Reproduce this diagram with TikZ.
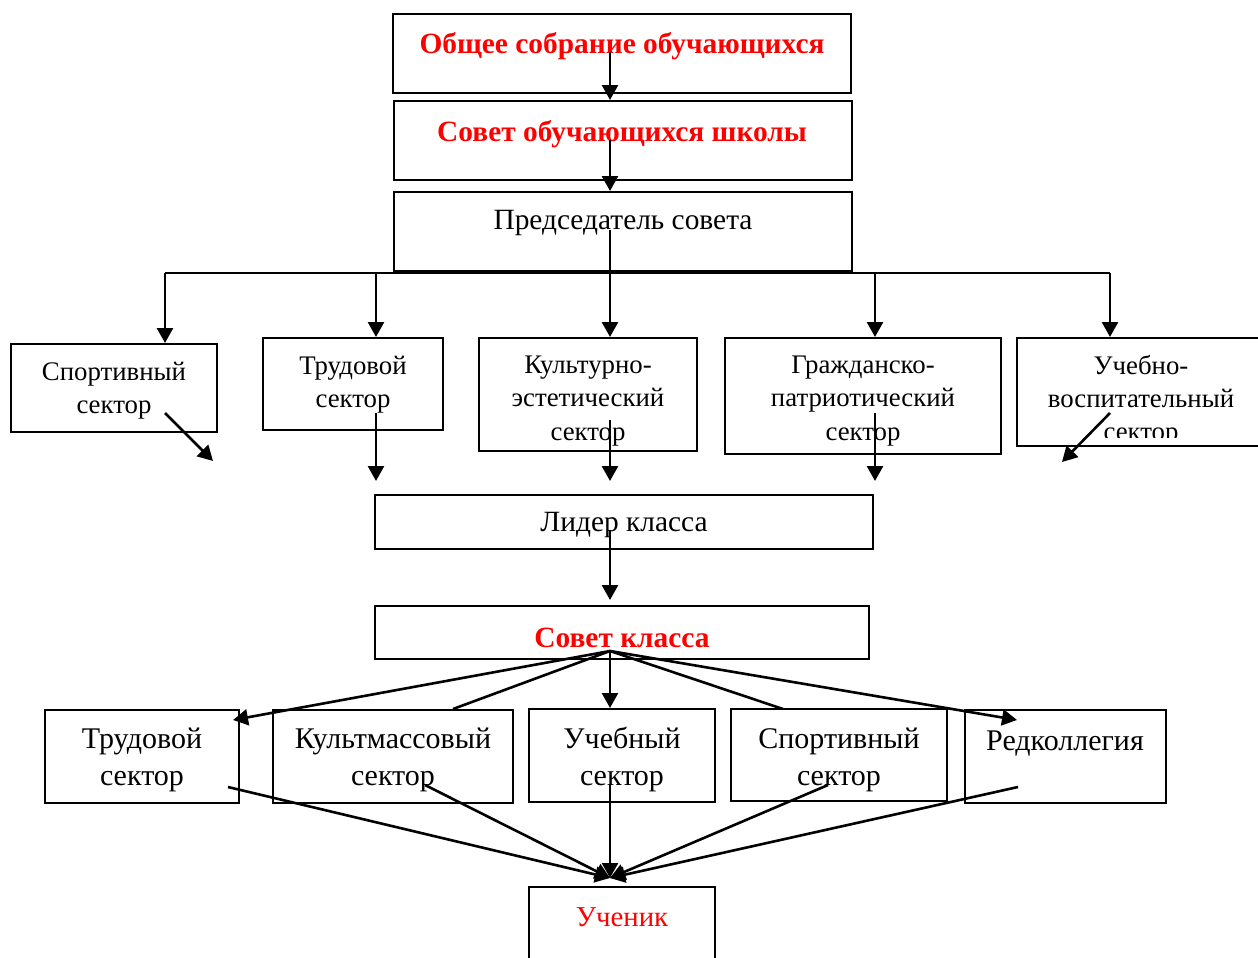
\documentclass[tikz,border=0pt]{standalone}
\usepackage{fontspec}
\setmainfont{Liberation Serif}
\usetikzlibrary{positioning}
\usetikzlibrary{fit}
\usetikzlibrary{arrows.meta}
\tikzset{
    box/.style = {rectangle, draw=black, line width=1pt, inner sep=0pt},
    txt/.style = {align=center, inner sep=0pt, font=\fontsize{13.4}{16.6}\selectfont},
    txtm/.style = {align=center, inner sep=0pt, font=\fontsize{14.7}{17}\selectfont},
    txtl/.style = {align=center, inner sep=0pt, font=\fontsize{15}{18.5}\selectfont},
    txtr/.style = {align=center, inner sep=0pt, text=red, font=\fontsize{14.7}{17}\selectfont\bfseries},
    txtrl/.style = {align=center, inner sep=0pt, text=red, font=\fontsize{14.4}{17}\selectfont},
    edgen/.style = {-{Triangle[length=7.5pt,width=8pt]}, line width=1.3pt},
    edgel/.style = {line width=1.3pt},
}

\begin{document}
\begin{tikzpicture}[x=0.5pt, y=-0.5pt]
  \useasboundingbox (0,0) rectangle (1258,958);

  % top of the scheme
  \node[box, fit={(393,14) (851,93)}] (b1) {};
  \node[box, fit={(394,101) (852,180)}] (b2) {};
  \node[box, fit={(394,192) (852,271)}] (b3) {};
  \node[txtr] (t1) at (622,46) {Общее собрание обучающихся};
  \node[txtr] (t2) at (622,134) {Совет обучающихся школы};
  \node[txtm] (t3) at (623,223) {Председатель совета};

  % sectors
  \node[box, fit={(11,344) (217,432)}] (s1) {};
  \node[box, fit={(263,338) (443,430)}] (s2) {};
  \node[box, fit={(479,338) (697,451)}] (s3) {};
  \node[box, fit={(725,338) (1001,454)}] (s4) {};
  \node[box, fit={(1017,338) (1275,446)}] (s5) {};
  \node[txt] (ts1) at (114,391) {Спортивный\\сектор};
  \node[txt] (ts2) at (353,385) {Трудовой\\сектор};
  \node[txt] (ts3) at (588,401) {Культурно-\\эстетический\\сектор};
  \node[txt] (ts4) at (863,401) {Гражданско-\\патриотический\\сектор};
  \begin{scope}
    \clip (1018,339) rectangle (1258,437);
    \node[txt] (ts5) at (1141,401) {Учебно-\\воспитательный\\сектор};
  \end{scope}

  % class level
  \node[box, fit={(375,495) (873,549)}] (l1) {};
  \node[box, fit={(375,606) (869,659)}] (k1) {};
  \node[txtm] (tl1) at (624,525) {Лидер класса};
  \node[txtr] (tk1) at (622,638) {Совет класса};

  \node[box, fit={(45,710) (239,803)}] (c1) {};
  \node[box, fit={(273,710) (513,803)}] (c2) {};
  \node[box, fit={(529,709) (715,802)}] (c3) {};
  \node[box, fit={(731,709) (947,801)}] (c4) {};
  \node[box, fit={(965,710) (1166,803)}] (c5) {};
  \node[txtl] (tc1) at (142,760) {Трудовой\\сектор};
  \node[txtl] (tc2) at (393,760) {Культмассовый\\сектор};
  \node[txtl] (tc3) at (622,759) {Учебный\\сектор};
  \node[txtl] (tc4) at (839,760) {Спортивный\\сектор};
  \node[txtl] (tc5) at (1065,744) {Редколлегия};

  \node[box, fit={(529,887) (715,990)}] (u1) {};
  \node[txtrl] (tu1) at (622,917) {Ученик};

  % points of the connectors
  \coordinate (p1) at (610,52);
  \coordinate (p2) at (610,140);
  \coordinate (p3) at (610,230);
  \coordinate (d1) at (165,273);
  \coordinate (d2) at (376,273);
  \coordinate (d4) at (875,273);
  \coordinate (d5) at (1110,273);
  \coordinate (e1) at (165,413);  \coordinate (f1) at (213,461);
  \coordinate (e2) at (376,413);  \coordinate (f2) at (376,481);
  \coordinate (e3) at (610,420);  \coordinate (f3) at (610,481);
  \coordinate (e4) at (875,413);  \coordinate (f4) at (875,481);
  \coordinate (e5) at (1110,413); \coordinate (f5) at (1062,462);
  \coordinate (g1) at (610,530);  \coordinate (g2) at (610,600);
  \coordinate (k0) at (610,651);
  \coordinate (h1) at (233,720);
  \coordinate (h2) at (453,709);
  \coordinate (h4) at (783,709);
  \coordinate (h5) at (1017,720);
  \coordinate (r1) at (228,787);
  \coordinate (r2) at (425,785);
  \coordinate (r3) at (610,785);
  \coordinate (r4) at (828,785);
  \coordinate (r5) at (1018,787);
  \coordinate (u0) at (610,878);

  \draw[edgen] (p1) -- (p1 |- b2.north);
  \draw[edgen] (p2) -- (p2 |- b3.north);
  \draw[edgen] (p3) -- (p3 |- s3.north);
  \draw[edgel] (d1) -- (d5);
  \draw[edgen] (d1) -- (d1 |- s1.north);
  \draw[edgen] (d2) -- (d2 |- s2.north);
  \draw[edgen] (d4) -- (d4 |- s4.north);
  \draw[edgen] (d5) -- (d5 |- s5.north);

  \foreach \i in {1,...,5}
    \draw[edgen] (e\i) -- (f\i);

  \draw[edgen] (g1) -- (g2);

  \draw[edgen] (k0) -- (h1);
  \draw[edgel] (k0) -- (h2);
  \draw[edgen] (k0) -- (k0 |- c3.north);
  \draw[edgel] (k0) -- (h4);
  \draw[edgen] (k0) -- (h5);

  \foreach \i in {1,...,5}
    \draw[edgen] (r\i) -- (u0);

\end{tikzpicture}
\end{document}
